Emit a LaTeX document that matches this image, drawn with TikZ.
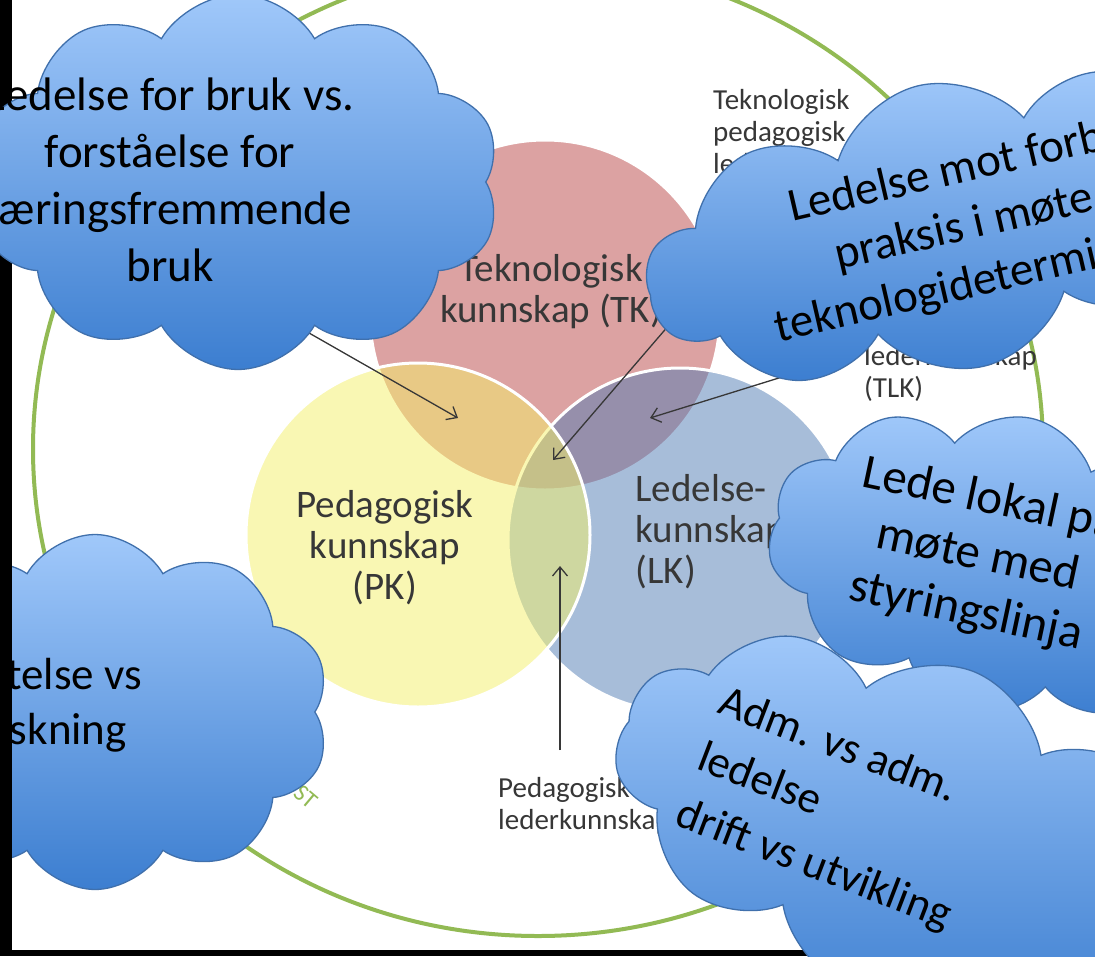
\documentclass[tikz,border=0pt]{standalone}
\usepackage{fontspec}
\setmainfont{Carlito}
\usepackage{tikz}
\usetikzlibrary{arrows.meta}
\usetikzlibrary{shapes.symbols}

\definecolor{ringgreen}{RGB}{146,186,84}
\definecolor{tkred}{RGB}{187,71,71}
\definecolor{lkblue}{RGB}{81,125,181}
\definecolor{pkyellow}{RGB}{245,241,105}
\definecolor{cloudtop}{RGB}{160,200,250}
\definecolor{cloudbottom}{RGB}{60,126,208}
\definecolor{cloudline}{RGB}{64,112,172}
\definecolor{labelgray}{RGB}{55,55,55}

\begin{document}
\begin{tikzpicture}[
    x=1pt, y=-1pt,
    venn/.style={draw=white, line width=3pt, fill opacity=0.5},
    ring/.style={draw=ringgreen, line width=4pt},
    thought/.style={cloud, cloud puffs=10, cloud puff arc=120, cloud ignores aspect,
        draw=cloudline, line width=1.3pt, top color=cloudtop, bottom color=cloudbottom},
    thought text/.style={font=\fontsize{47}{57}\selectfont, align=center, text=black},
    thought line/.style={font=\fontsize{47}{57}\selectfont, anchor=base west, text=black, inner sep=0pt},
    big label/.style={font=\fontsize{39}{41}\selectfont, text=labelgray, align=center},
    small label/.style={font=\fontsize{29}{32}\selectfont, text=labelgray, align=left,
        anchor=north west, inner sep=0pt},
    pointer/.style={-{Straight Barb[length=9pt,width=15pt]}, line width=1.3pt, draw=labelgray},
    strip/.style={fill=black}
    ]

    \useasboundingbox[fill=white] (0,0) rectangle (1095,956);

    % outer ring
    \draw[ring] (538,449) ellipse [x radius=505, y radius=487];
    \node[text=ringgreen, font=\fontsize{24}{24}\selectfont, rotate=-40] (ringtext) at (306,797) {ST};

    % centres of the three circles
    \coordinate (TK) at (545,315);
    \coordinate (LK) at (680,540);
    \coordinate (PK) at (418,535);
    % circles
    \draw[venn, fill=tkred] (TK) circle [radius=175];
    \draw[venn, fill=lkblue] (LK) circle [radius=172];
    \draw[venn, fill=pkyellow] (PK) circle [radius=172];

    % circle labels
    \node[big label] (tklabel) at (551,292) {Teknologisk\\kunnskap (TK)};
    \node[big label] (pklabel) at (385,548) {Pedagogisk\\kunnskap\\(PK)};
    \node[big label, align=left, anchor=west] (lklabel) at (632,532) {Ledelse-\\kunnskap\\(LK)};

    % overlap labels
    \node[small label] (tplk) at (713,89) {Teknologisk\\pedagogisk\\lederkunnskap\\(TPLK)};
    \node[small label] (tlk) at (864,313) {Teknologisk\\lederkunnskap\\(TLK)};
    \node[small label] (plk) at (498,777) {Pedagogisk\\lederkunnskap};

    % arrows into the overlaps
    \coordinate (tp) at (458,418);
    \coordinate (tpl) at (553,460);
    \coordinate (tl) at (650,418);
    \coordinate (pl) at (560,566);
    \coordinate (tpfoot) at (260,305);
    \coordinate (tplfoot) at (700,289);
    \coordinate (tlfoot) at (840,359);
    \coordinate (plfoot) at (560,750);
    \draw[pointer] (tpfoot) -- (tp);
    \draw[pointer] (tplfoot) -- (tpl);
    \draw[pointer] (tlfoot) -- (tl);
    \draw[pointer] (plfoot) -- (pl);

    % clouds
    \node[thought, minimum width=470pt, minimum height=355pt] (cloudForsk) at (95,712) {};
    \node[thought text, font=\fontsize{45}{55}\selectfont] (txtForsk) at (24,705) {Utnyttelse vs\\utforskning};

    \fill[strip] (0,0) rectangle (12,956);

    \node[thought, minimum width=525pt, minimum height=375pt] (cloudBruk) at (238,182) {};
    \node[thought text] (txtBruk) at (170,180) {Ledelse for bruk vs.\\forståelse for\\læringsfremmende\\bruk};

    \node[thought, minimum width=620pt, minimum height=288pt, rotate=13] (cloudPraksis) at (951,226) {};
    \begin{scope}[shift={(792,222)}, rotate=13, transform shape]
        \node[thought line] (txtPraksisA) at (0,0) {Ledelse mot forbedret};
        \node[thought line] (txtPraksisB) at (34,57) {praksis i møte med};
        \node[thought line] (txtPraksisC) at (-40,114) {teknologideterminisme};
    \end{scope}

    \node[thought, minimum width=470pt, minimum height=300pt, rotate=-12] (cloudLokal) at (1000,565) {};
    \node[thought text, rotate=-12, font=\fontsize{49}{57}\selectfont] (txtLokal) at (978,556) {Lede lokal på\\møte med\\styringslinja};

    \fill[strip] (0,950) rectangle (1095,956);

    \node[thought, minimum width=620pt, minimum height=340pt, rotate=-21] (cloudAdm) at (912,830) {};
    \node[thought text, align=left, rotate=-21, font=\fontsize{45}{60}\selectfont] (txtAdm) at (835,810) {Adm. vs adm.\\ledelse\\drift vs utvikling};
\end{tikzpicture}
\end{document}
